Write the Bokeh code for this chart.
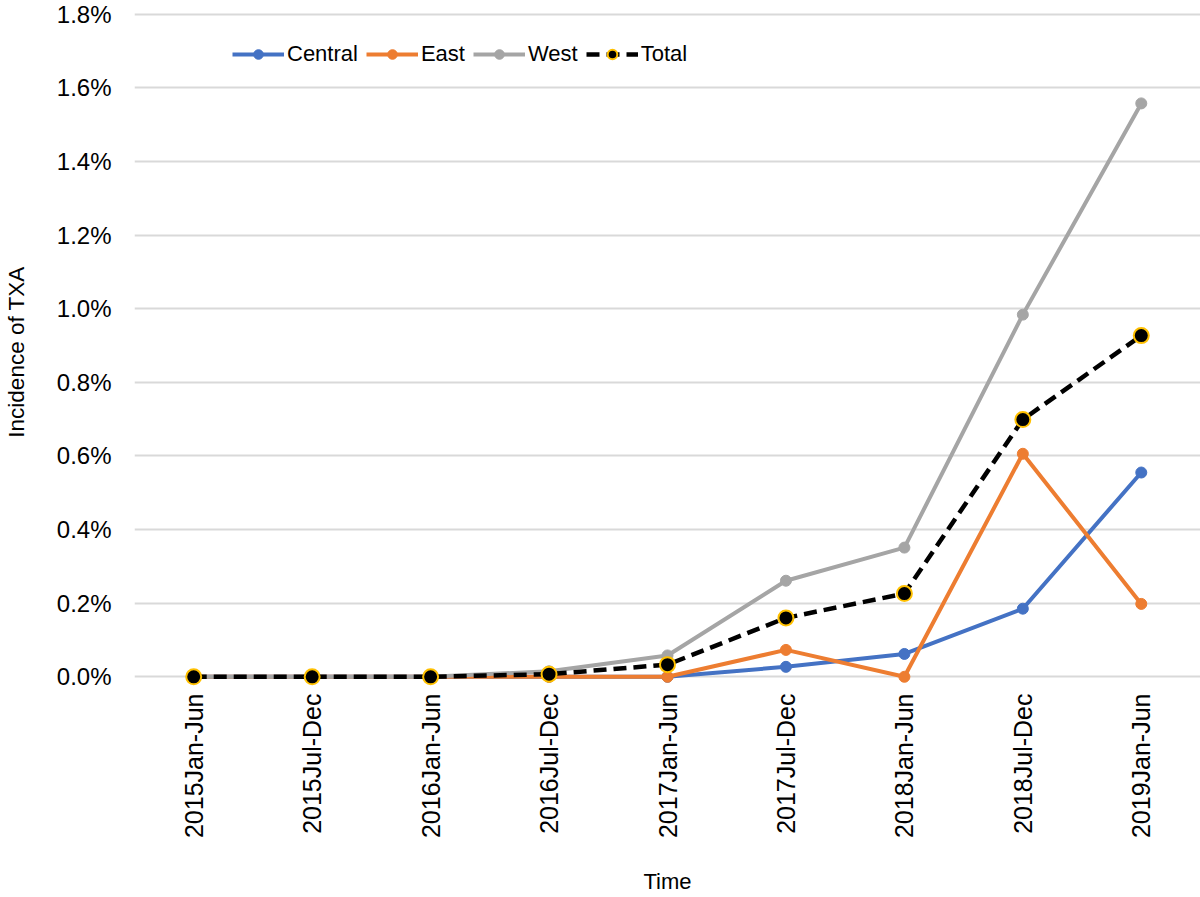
from bokeh.plotting import figure
from bokeh.models import FactorRange, Range1d, FixedTicker, PrintfTickFormatter, Legend, LegendItem
from bokeh.embed import file_html
from bokeh.resources import INLINE
import math

periods = ["2015Jan-Jun", "2015Jul-Dec", "2016Jan-Jun", "2016Jul-Dec", "2017Jan-Jun",
           "2017Jul-Dec", "2018Jan-Jun", "2018Jul-Dec", "2019Jan-Jun"]
# incidence in percent
central = [0, 0, 0, 0, 0, 0.027, 0.062, 0.185, 0.555]
east = [0, 0, 0, 0, 0, 0.073, 0, 0.606, 0.198]
west = [0, 0, 0, 0.015, 0.058, 0.261, 0.351, 0.984, 1.558]
total = [0, 0, 0, 0.007, 0.033, 0.160, 0.226, 0.699, 0.927]
y_ticks = [0, 0.2, 0.4, 0.6, 0.8, 1.0, 1.2, 1.4, 1.6, 1.8]

FONT = "Liberation Sans"

p = figure(width=1200, height=897, x_range=FactorRange(*periods),
           y_range=Range1d(-0.04, 1.805), output_backend="svg",
           toolbar_location=None, min_border_left=131, min_border_right=0,
           min_border_top=12, min_border_bottom=206)
p.outline_line_color = None
p.background_fill_color = "white"
p.border_fill_color = "white"

p.xgrid.grid_line_color = None
p.ygrid.grid_line_color = "#D9D9D9"
p.ygrid.grid_line_width = 2

p.yaxis.ticker = FixedTicker(ticks=y_ticks)
p.yaxis.formatter = PrintfTickFormatter(format="%.1f%%")
for ax in (p.xaxis[0], p.yaxis[0]):
    ax.axis_line_color = None
    ax.major_tick_line_color = None
    ax.minor_tick_line_color = None
    ax.major_tick_out = 0
    ax.major_tick_in = 0
    ax.major_label_text_font = FONT
    ax.major_label_text_color = "black"
    ax.axis_label_text_font = FONT
    ax.axis_label_text_font_style = "normal"
    ax.axis_label_text_color = "black"

p.yaxis.major_label_text_font_size = "24px"
p.yaxis.major_label_standoff = 23
p.yaxis.axis_label = "Incidence of TXA"
p.yaxis.axis_label_text_font_size = "22.5px"
p.yaxis.axis_label_standoff = 25

p.xaxis.major_label_orientation = math.pi / 2
p.xaxis.major_label_text_font_size = "25px"
p.xaxis.major_label_standoff = 2
p.xaxis.axis_label = "Time"
p.xaxis.axis_label_text_font_size = "22px"
p.xaxis.axis_label_standoff = 28

items = []
for name, vals, col in [("Central", central, "#4472C4"), ("East", east, "#ED7D31"), ("West", west, "#A5A5A5")]:
    l = p.line(periods, vals, line_color=col, line_width=4)
    s = p.scatter(periods, vals, size=11, fill_color=col, line_color=col)
    items.append(LegendItem(label=name, renderers=[l, s]))

lt = p.line(periods, total, line_color="black", line_width=4.5, line_dash="13 7")
st = p.scatter(periods, total, size=15, fill_color="black", line_color="#FFC000", line_width=2)
items.append(LegendItem(label="Total", renderers=[lt, st]))

legend = Legend(items=items, orientation="horizontal", location=(98, 624))
legend.label_text_font = FONT
legend.label_text_font_size = "22px"
legend.label_text_color = "black"
legend.glyph_width = 52
legend.glyph_height = 24
legend.label_standoff = 3
legend.spacing = 8
legend.padding = 0
legend.margin = 0
legend.border_line_color = None
legend.background_fill_alpha = 0
p.add_layout(legend)

open("out.html", "w").write(file_html(p, INLINE))
